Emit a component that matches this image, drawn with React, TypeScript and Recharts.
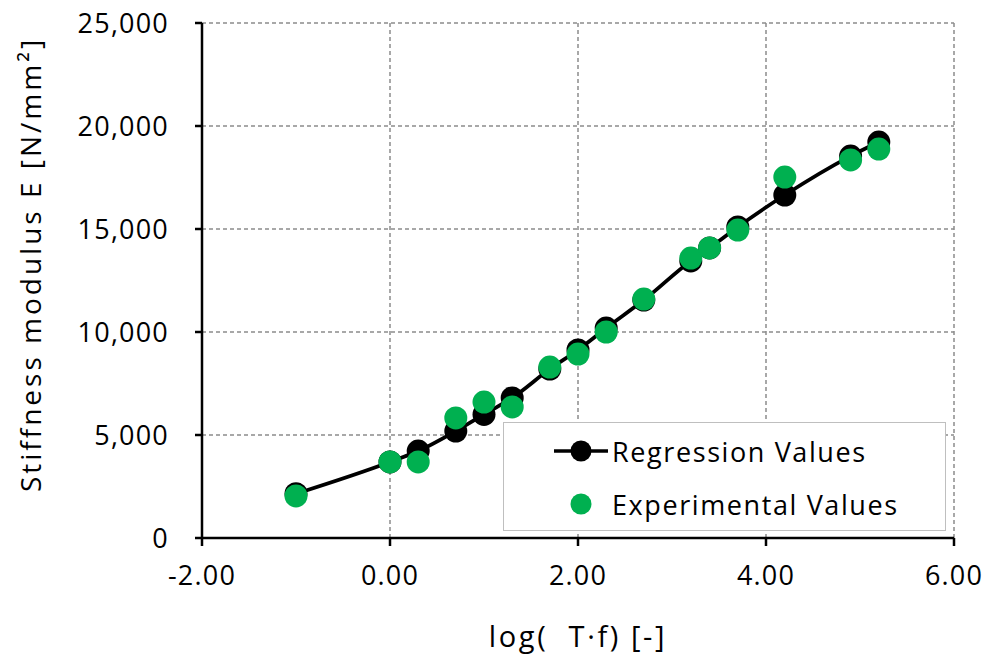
import {
  ComposedChart,
  Line,
  XAxis,
  YAxis,
  CartesianGrid,
  Legend,
  Label,
} from "recharts";

const FONT = "'Open Sans', sans-serif";
const GREEN = "#00B050";

// log(aT·f) values shared by both series
const logTf = [-1, 0, 0.3, 0.7, 1.0, 1.3, 1.7, 2.0, 2.3, 2.7, 3.2, 3.4, 3.7, 4.2, 4.9, 5.2];
const regressionE = [2150, 3690, 4220, 5190, 6000, 6800, 8200, 9130, 10190, 11550, 13450, 14080, 15100, 16650, 18540, 19220];
const experimentalE = [2040, 3690, 3690, 5830, 6600, 6360, 8300, 8930, 10000, 11600, 13590, 14080, 14950, 17520, 18350, 18880];

const xTicks = [-2, 0, 2, 4, 6];
const yTicks = [0, 5000, 10000, 15000, 20000, 25000];

const regressionData = logTf.map((x, i) => ({ x, e: regressionE[i] }));
const experimentalData = logTf.map((x, i) => ({ x, e: experimentalE[i] }));

const tickStyle = { fill: "#000", fontSize: 27, fontFamily: FONT, letterSpacing: 1.2 };

function LegendBox() {
  return (
    <div
      style={{
        width: 441,
        height: 107,
        background: "#fff",
        border: "1px solid #bfbfbf",
        fontFamily: FONT,
        fontSize: 27,
        letterSpacing: 1.6,
        color: "#000",
      }}
    >
      <div style={{ display: "flex", alignItems: "center", height: 56 }}>
        <svg width={108} height={30}>
          <line x1={50} y1={15} x2={104} y2={15} stroke="#000" strokeWidth={3.5} />
          <circle cx={77} cy={15} r={10.5} fill="#000" />
        </svg>
        <span>Regression Values</span>
      </div>
      <div style={{ display: "flex", alignItems: "center", height: 50 }}>
        <svg width={108} height={30}>
          <circle cx={77} cy={15} r={10.5} fill={GREEN} />
        </svg>
        <span>Experimental Values</span>
      </div>
    </div>
  );
}

export default function App() {
  return (
    <div style={{ position: "absolute", left: 0, top: 0, background: "#fff" }}>
      <ComposedChart
        width={990}
        height={659}
        margin={{ top: 23, right: 36, left: 0, bottom: 0 }}
      >
        <CartesianGrid stroke="#8c8c8c" strokeDasharray="4 3" strokeWidth={1.5} />
        <XAxis
          type="number"
          dataKey="x"
          domain={[-2, 6]}
          ticks={xTicks}
          tickFormatter={(v: number) => v.toFixed(2)}
          height={121}
          stroke="#000"
          strokeWidth={2.5}
          tickSize={8}
          tickMargin={20}
          tick={tickStyle}
          allowDataOverflow
        >
          <Label
            value={"log(\u00a0\u00a0T·f) [-]"}
            position="insideBottom"
            offset={12}
            style={{ fill: "#000", fontSize: 29, fontFamily: FONT, letterSpacing: 2.6 }}
          />
        </XAxis>
        <YAxis
          type="number"
          domain={[0, 25000]}
          ticks={yTicks}
          tickFormatter={(v: number) => v.toLocaleString("en-US")}
          width={202}
          stroke="#000"
          strokeWidth={2.5}
          tickSize={7}
          tickMargin={26}
          tick={tickStyle}
        >
          <Label
            value="Stiffness modulus E [N/mm²]"
            angle={-90}
            position="insideLeft"
            offset={31}
            dy={-16}
            style={{ fill: "#000", fontSize: 28, fontFamily: FONT, letterSpacing: 3, textAnchor: "middle" }}
          />
        </YAxis>
        <Legend
          layout="vertical"
          align="center"
          verticalAlign="middle"
          wrapperStyle={{ left: 503, top: 422, width: 443, height: 109 }}
          content={() => <LegendBox />}
        />
        <Line
          data={regressionData}
          dataKey="e"
          name="Regression Values"
          type="monotone"
          stroke="#000"
          strokeWidth={3.8}
          dot={{ r: 11.5, fill: "#000", stroke: "#000", strokeWidth: 0 }}
          activeDot={false}
          isAnimationActive={false}
        />
        <Line
          data={experimentalData}
          dataKey="e"
          name="Experimental Values"
          stroke="none"
          dot={{ r: 11.5, fill: GREEN, stroke: GREEN, strokeWidth: 0 }}
          activeDot={false}
          isAnimationActive={false}
        />
      </ComposedChart>
    </div>
  );
}
